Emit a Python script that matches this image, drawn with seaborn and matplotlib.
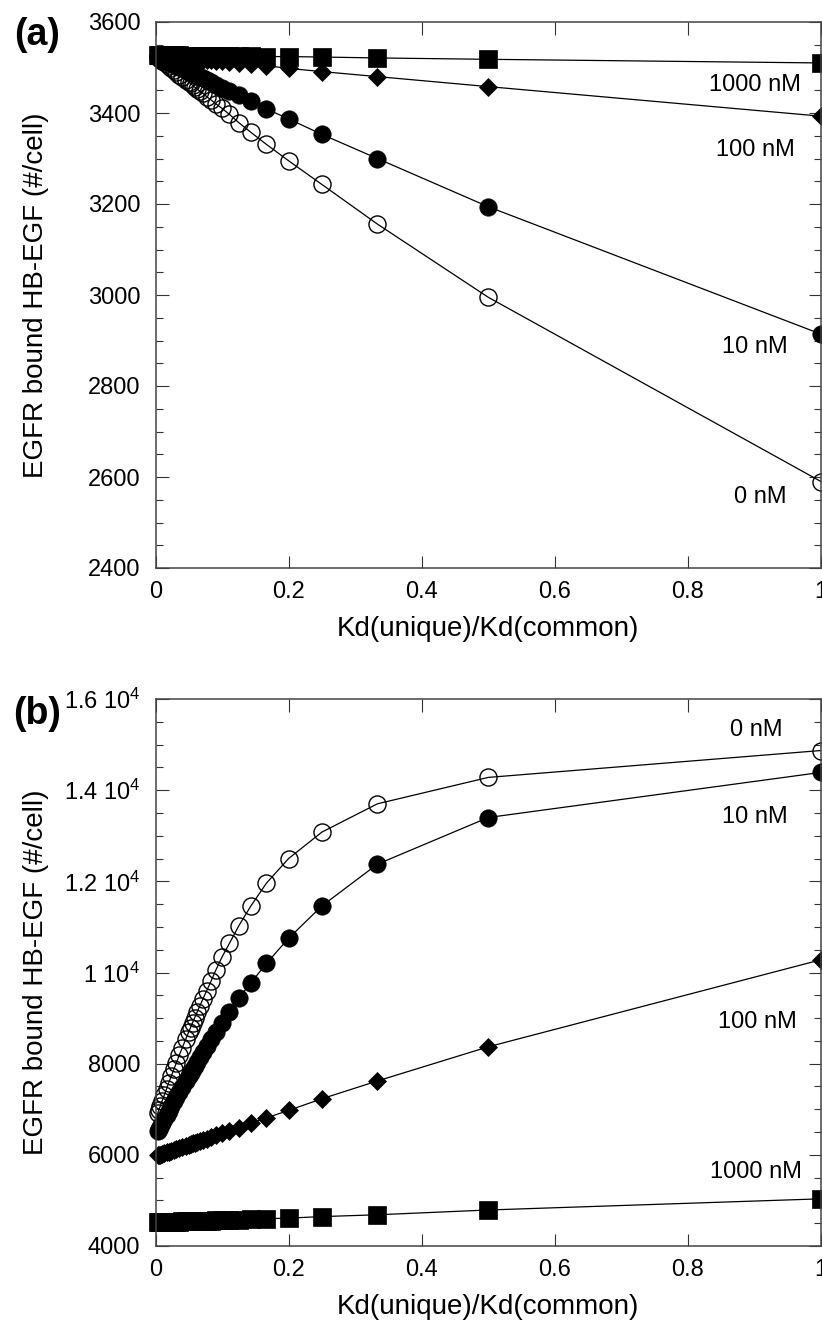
import matplotlib
matplotlib.use("Agg")
import matplotlib.pyplot as plt
from matplotlib.ticker import MultipleLocator, FixedLocator, FixedFormatter
import seaborn as sns
import pandas as pd

# ---------------- data ----------------
x_ratio = [1.0, 0.5, 0.3333, 0.25, 0.2, 0.1667, 0.1429, 0.125, 0.1111, 0.1,
           0.0909, 0.0833, 0.0769, 0.0714, 0.0667, 0.0625, 0.0588, 0.0556,
           0.0526, 0.05, 0.0455, 0.04, 0.0357, 0.0313, 0.0278, 0.0238, 0.02,
           0.0167, 0.0133, 0.01, 0.0071, 0.005, 0.0033]

series_names = ["0 nM", "10 nM", "100 nM", "1000 nM"]

# panel (a)
a_0nM = [2590, 2995, 3156, 3243, 3295, 3331, 3358, 3379, 3397, 3410, 3420, 3429,
         3436, 3443, 3448, 3453, 3457, 3461, 3465, 3468, 3473, 3479, 3484, 3490,
         3494, 3498, 3503, 3507, 3511, 3515, 3518, 3521, 3523]
a_10nM = [2914, 3194, 3300, 3353, 3387, 3409, 3426, 3439, 3448, 3456, 3462, 3468,
          3472, 3476, 3480, 3482, 3485, 3487, 3489, 3491, 3494, 3498, 3501, 3505,
          3507, 3510, 3513, 3515, 3517, 3520, 3522, 3523, 3525]
a_100nM = [3393, 3458, 3480, 3491, 3498, 3504, 3507, 3510, 3512, 3514, 3515, 3516,
           3517, 3517, 3518, 3519, 3519, 3520, 3520, 3520, 3521, 3522, 3522, 3523,
           3523, 3524, 3524, 3525, 3525, 3526, 3526, 3526, 3527]
a_1000nM = [3510, 3518, 3521, 3523, 3524, 3524, 3525, 3525, 3525, 3525, 3525, 3526,
            3526, 3526, 3526, 3526, 3526, 3526, 3526, 3526, 3526, 3526, 3527, 3527,
            3527, 3527, 3527, 3527, 3527, 3527, 3527, 3527, 3527]

# panel (b)
b_0nM = [14870, 14280, 13700, 13080, 12500, 11960, 11450, 11020, 10640, 10340,
         10060, 9805, 9600, 9425, 9270, 9130, 9005, 8895, 8790, 8700, 8540, 8340,
         8185, 8015, 7885, 7730, 7585, 7450, 7315, 7185, 7065, 6980, 6910]
b_10nM = [14390, 13400, 12375, 11460, 10750, 10200, 9765, 9440, 9136, 8902, 8702,
          8531, 8385, 8257, 8147, 8046, 7956, 7879, 7805, 7740, 7628, 7489, 7379,
          7264, 7173, 7068, 6967, 6879, 6786, 6697, 6617, 6559, 6512]
b_100nM = [10280, 8370, 7620, 7230, 6975, 6810, 6690, 6595, 6527, 6472, 6427, 6389,
           6357, 6330, 6306, 6286, 6267, 6251, 6236, 6223, 6200, 6173, 6151, 6129,
           6112, 6091, 6072, 6055, 6038, 6021, 6006, 5996, 5987]
b_1000nM = [5035, 4790, 4685, 4645, 4612, 4598, 4587, 4579, 4572, 4567, 4563, 4559,
            4556, 4554, 4551, 4549, 4548, 4546, 4545, 4544, 4541, 4539, 4537, 4535,
            4533, 4531, 4529, 4528, 4526, 4525, 4523, 4522, 4522]

x_ticks = [0, 0.2, 0.4, 0.6, 0.8, 1]
x_ticklabels = ["0", "0.2", "0.4", "0.6", "0.8", "1"]
a_yticks = [2400, 2600, 2800, 3000, 3200, 3400, 3600]
a_yticklabels = ["2400", "2600", "2800", "3000", "3200", "3400", "3600"]
b_yticks = [4000, 6000, 8000, 10000, 12000, 14000, 16000]
b_yticklabels = ["4000", "6000", "8000", r"1 10$^{4}$", r"1.2 10$^{4}$",
                 r"1.4 10$^{4}$", r"1.6 10$^{4}$"]

# label positions (data coords)
a_label_pos = {"1000 nM": (0.901, 3462), "100 nM": (0.901, 3319),
               "10 nM": (0.901, 2886), "0 nM": (0.909, 2556)}
b_label_pos = {"0 nM": (0.903, 15320), "10 nM": (0.901, 13412),
               "100 nM": (0.904, 8917), "1000 nM": (0.903, 5627)}

# ---------------- style ----------------
sns.set_style("ticks")
plt.rcParams["font.family"] = ["Liberation Sans", "DejaVu Sans"]
plt.rcParams["mathtext.fontset"] = "custom"
plt.rcParams["mathtext.rm"] = "Liberation Sans"
plt.rcParams["mathtext.it"] = "Liberation Sans"
plt.rcParams["mathtext.default"] = "regular"
plt.rcParams["text.color"] = "black"
plt.rcParams["axes.labelcolor"] = "black"
plt.rcParams["xtick.labelcolor"] = "black"
plt.rcParams["ytick.labelcolor"] = "black"

W, H = 822, 1322
fig = plt.figure(figsize=(W / 100, H / 100), dpi=100)

def ax_rect(left, top, right, bottom):
    return [left / W, 1 - bottom / H, (right - left) / W, (bottom - top) / H]

ax_a = fig.add_axes(ax_rect(155.5, 22, 821, 568))
ax_b = fig.add_axes(ax_rect(155.5, 699, 821, 1246))

marker_styles = {
    "0 nM": dict(marker="o", markersize=12.3, markerfacecolor="none",
                 markeredgecolor="black", markeredgewidth=1.0),
    "10 nM": dict(marker="o", markersize=12.5, markerfacecolor="black",
                  markeredgecolor="black", markeredgewidth=0.5),
    "100 nM": dict(marker="D", markersize=9.6, markerfacecolor="black",
                   markeredgecolor="black", markeredgewidth=0.5),
    "1000 nM": dict(marker="s", markersize=12.8, markerfacecolor="black",
                    markeredgecolor="black", markeredgewidth=0.5),
}

def draw_panel(ax, ys, label_pos):
    frames = []
    for name, y in zip(series_names, ys):
        frames.append(pd.DataFrame({"x": x_ratio, "y": y, "series": name}))
    df = pd.concat(frames, ignore_index=True)
    for name in series_names:
        sub = df[df["series"] == name]
        sns.lineplot(data=sub, x="x", y="y", ax=ax, color="black",
                     linewidth=0.9, estimator=None, sort=True, clip_on=False,
                     legend=False, **marker_styles[name])
    for name, (tx, ty) in label_pos.items():
        ax.text(tx, ty, name, ha="center", va="center", fontsize=17,
                color="black")

draw_panel(ax_a, [a_0nM, a_10nM, a_100nM, a_1000nM], a_label_pos)
draw_panel(ax_b, [b_0nM, b_10nM, b_100nM, b_1000nM], b_label_pos)

for ax, yt, ytl, ylim, minor in [
    (ax_a, a_yticks, a_yticklabels, (2400, 3600), 50),
    (ax_b, b_yticks, b_yticklabels, (4000, 16000), 500),
]:
    ax.set_xlim(0, 1)
    ax.set_ylim(*ylim)
    ax.xaxis.set_major_locator(FixedLocator(x_ticks))
    ax.xaxis.set_major_formatter(FixedFormatter(x_ticklabels))
    ax.yaxis.set_major_locator(FixedLocator(yt))
    ax.yaxis.set_major_formatter(FixedFormatter(ytl))
    ax.yaxis.set_minor_locator(MultipleLocator(minor))
    ax.tick_params(axis="both", which="major", direction="in", length=9,
                   width=0.8, top=True, right=True, labelsize=17, pad=9,
                   color="#333333", labelcolor="black")
    ax.tick_params(axis="both", which="minor", direction="in", length=5,
                   width=0.8, top=True, right=True, color="#333333")
    ax.tick_params(axis="y", which="major", pad=11)
    for sp in ax.spines.values():
        sp.set_linewidth(1.1)
        sp.set_color("#444444")
        sp.set_visible(True)
    ax.set_xlabel("Kd(unique)/Kd(common)", fontsize=20, color="black")
    ax.set_ylabel("EGFR bound HB-EGF (#/cell)", fontsize=20, color="black")
    ax.xaxis.label.set_va("center")
    ax.yaxis.label.set_va("center")
    ax.xaxis.set_label_coords(0.5, -61 / 546)
    ax.yaxis.set_label_coords((36 - 155.5) / 665.5, 0.5)

fig.text(37 / W, 1 - 35 / H, "(a)", fontsize=27, fontweight="bold",
         ha="center", va="center", color="black")
fig.text(37 / W, 1 - 714 / H, "(b)", fontsize=27, fontweight="bold",
         ha="center", va="center", color="black")

fig.savefig("out.png", dpi=100)
